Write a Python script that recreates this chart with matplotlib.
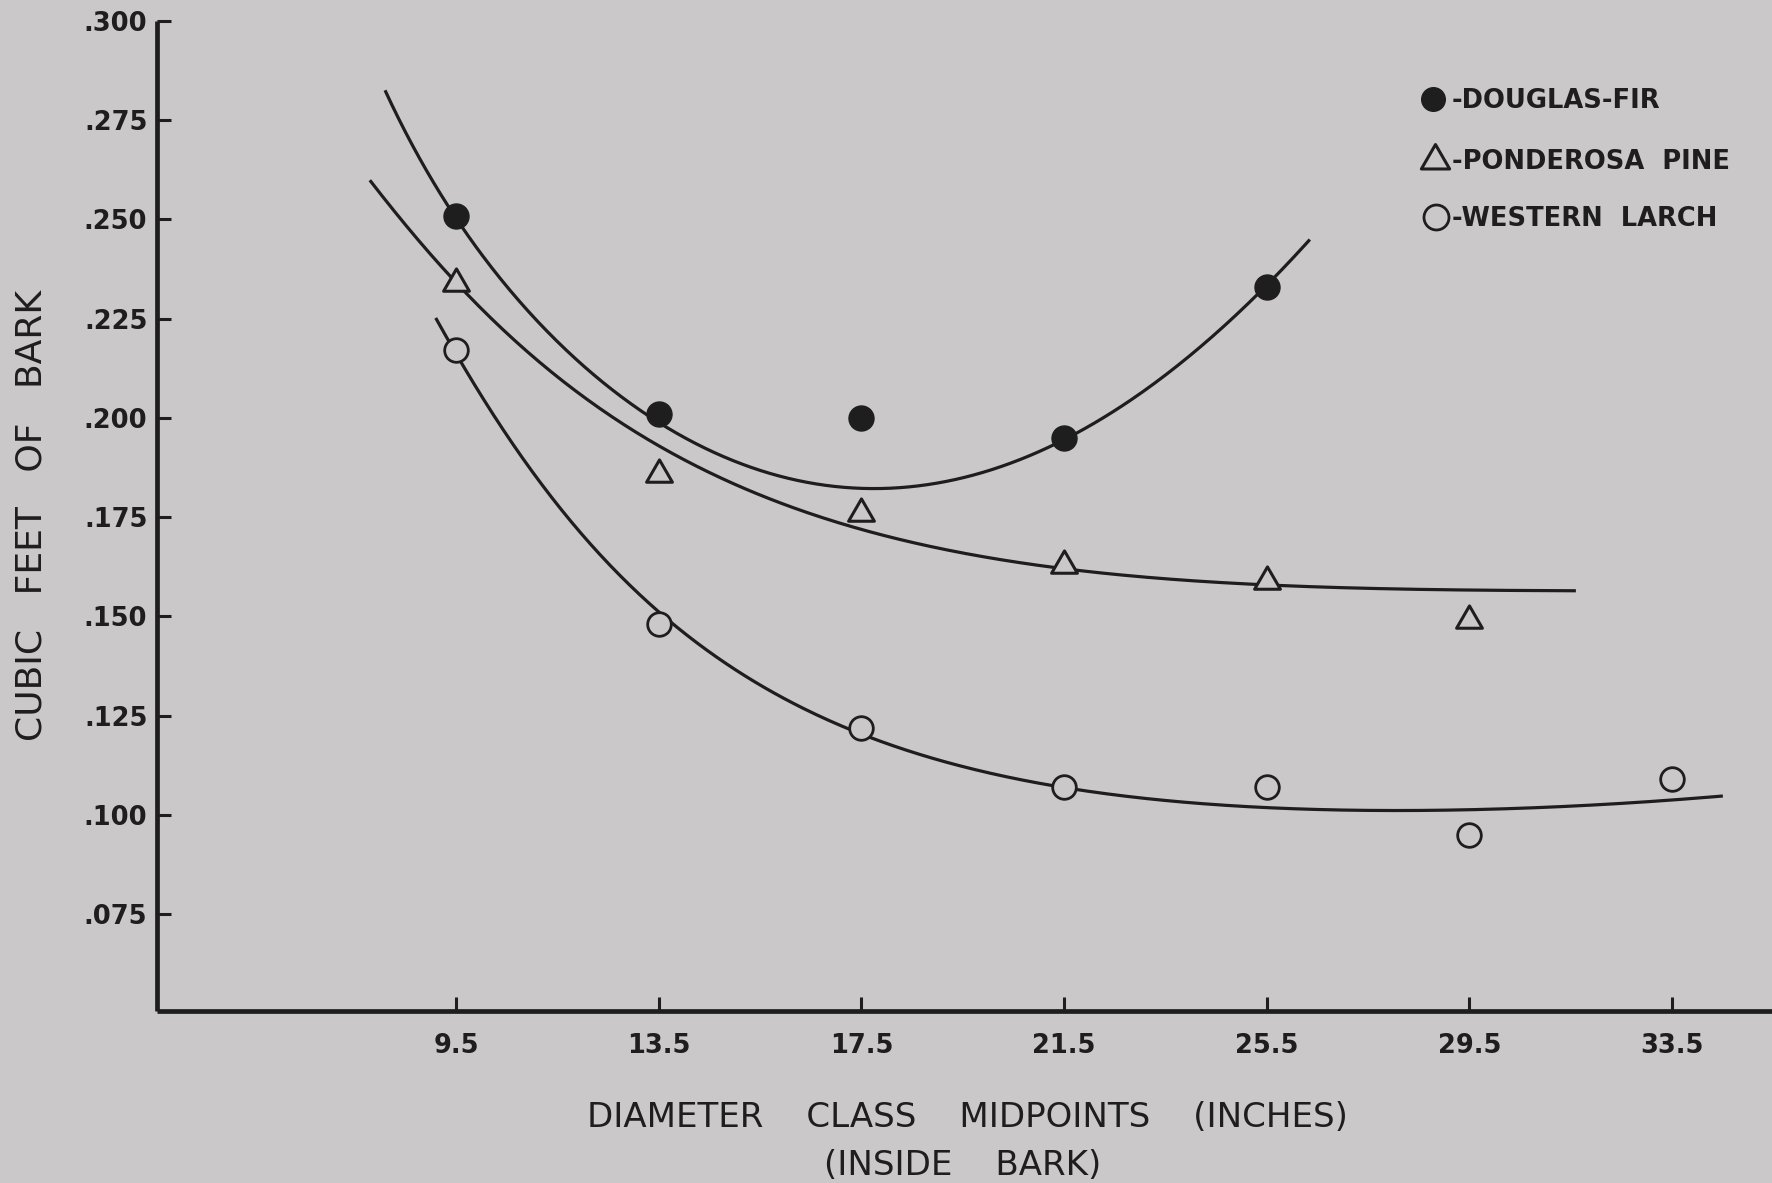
import numpy as np
import matplotlib
matplotlib.use("Agg")
import matplotlib.pyplot as plt
from matplotlib.lines import Line2D
from matplotlib.path import Path

# ---- data -------------------------------------------------------------
# Diameter class midpoints, inches inside bark
diameter = [9.5, 13.5, 17.5, 21.5, 25.5, 29.5, 33.5]
x_tick_labels = ["9.5", "13.5", "17.5", "21.5", "25.5", "29.5", "33.5"]

# Mean cubic feet of bark per diameter class
douglas_fir = [0.251, 0.201, 0.200, 0.195, 0.233]
ponderosa_pine = [0.234, 0.186, 0.176, 0.163, 0.159, 0.149]
western_larch = [0.217, 0.148, 0.122, 0.107, 0.107, 0.095, 0.109]

# Fitted regression curves, sampled along each line
df_curve_d = [8.1, 9.3, 9.6, 10.5, 11.5, 12.45, 13.5, 14.4, 15.6, 16.2,
              17.55, 18.8, 20.3, 21.4, 22.6, 24.1, 25.4, 26.35]
df_curve_v = [0.2824, 0.2549, 0.2482, 0.2331, 0.2188, 0.2087, 0.1991, 0.1919,
              0.1873, 0.1844, 0.1814, 0.1827, 0.1886, 0.1949, 0.2028, 0.2154,
              0.2322, 0.2455]

pp_curve_d = [7.8, 9.4, 10.5, 11.67, 13.63, 15.59, 17.17, 18.82, 21.37,
              23.32, 25.35, 26.83, 28.8, 31.6]
pp_curve_v = [0.2598, 0.2356, 0.2222, 0.2076, 0.1917, 0.1811, 0.1730, 0.1676,
              0.1625, 0.1592, 0.1579, 0.1575, 0.1569, 0.1564]

wl_curve_d = [9.1, 9.7, 10.4, 11.35, 12.35, 13.63, 14.94, 16.25, 18.21,
              21.34, 25.3, 29.4, 32.2, 34.5]
wl_curve_v = [0.2249, 0.2120, 0.1988, 0.1794, 0.1650, 0.1507, 0.1370, 0.1272,
              0.1175, 0.1071, 0.1017, 0.1014, 0.1029, 0.1046]

y_ticks = [0.075, 0.100, 0.125, 0.150, 0.175, 0.200, 0.225, 0.250, 0.275, 0.300]
y_tick_labels = [".075", ".100", ".125", ".150", ".175", ".200", ".225",
                 ".250", ".275", ".300"]

species_labels = ["-DOUGLAS-FIR", "-PONDEROSA  PINE", "-WESTERN  LARCH"]

# ---- style --------------------------------------------------------------
PAPER = "#cbc8c9"
INK = "#1e1e1e"
W, H = 1772, 1183

plt.rcParams["font.family"] = ["DejaVu Sans"]

fig = plt.figure(figsize=(W / 100, H / 100), dpi=100, facecolor=PAPER)
ax = fig.add_axes([157 / W, 1 - 1011 / H, 1 - 157 / W, (1011 - 21) / H])
ax.set_facecolor(PAPER)

ax.set_xlim(3.6, 35.47)
ax.set_ylim(0.0506, 0.300)

for side in ("top", "right"):
    ax.spines[side].set_visible(False)
for side in ("left", "bottom"):
    ax.spines[side].set_linewidth(3.4)
    ax.spines[side].set_color(INK)
    ax.spines[side].set_capstyle("butt")

ax.set_xticks(diameter)
ax.set_xticklabels(x_tick_labels)
ax.set_yticks(y_ticks)
ax.set_yticklabels(y_tick_labels)
ax.tick_params(axis="both", direction="in", length=10, width=2.2, color=INK,
               labelcolor=INK, labelsize=18.5)
ax.tick_params(axis="x", pad=15.5)
ax.tick_params(axis="y", pad=7)
for lab in ax.get_xticklabels() + ax.get_yticklabels():
    lab.set_fontweight("bold")


def smooth_curve(d, v, deg=4, n=400):
    """Least-squares polynomial in log(diameter) through the sampled line."""
    d = np.asarray(d, dtype=float)
    v = np.asarray(v, dtype=float)
    coef = np.polyfit(np.log(d), v, deg)
    xs = np.linspace(d.min(), d.max(), n)
    return xs, np.polyval(coef, np.log(xs))


for cd, cv, deg in ((df_curve_d, df_curve_v, 4),
                    (pp_curve_d, pp_curve_v, 4),
                    (wl_curve_d, wl_curve_v, 5)):
    xs, ys = smooth_curve(cd, cv, deg)
    ax.plot(xs, ys, color=INK, lw=2.3, solid_capstyle="butt", zorder=2)

# open triangle marker with its centroid on the data value
tri = Path([(-1.0, -0.6), (1.0, -0.6), (0.0, 1.13), (-1.0, -0.6)], closed=True)

ax.plot(diameter[:len(douglas_fir)], douglas_fir, ls="none", marker="o",
        ms=18, mfc=INK, mec=INK, mew=1.0, zorder=4)
ax.plot(diameter[:len(ponderosa_pine)], ponderosa_pine, ls="none", marker=tri,
        ms=21, mfc=PAPER, mec=INK, mew=2.2, zorder=4)
ax.plot(diameter[:len(western_larch)], western_larch, ls="none", marker="o",
        ms=17, mfc=PAPER, mec=INK, mew=2.0, zorder=4)


def fx(px):
    return px / W


def fy(py):
    return 1 - py / H


# ---- key ------------------------------------------------------------------
key_markers = [
    dict(marker="o", ms=17, mfc=INK, mec=INK, mew=1.0),
    dict(marker=tri, ms=23, mfc=PAPER, mec=INK, mew=2.2),
    dict(marker="o", ms=18, mfc=PAPER, mec=INK, mew=2.0),
]
key_centers = [99, 160, 217]
key_marker_x = [1433, 1435, 1436]
for label, style, cy, mx in zip(species_labels, key_markers, key_centers,
                                key_marker_x):
    fig.add_artist(Line2D([fx(mx)], [fy(cy)], ls="none",
                          transform=fig.transFigure, **style))
    fig.text(fx(1452), fy(cy + 9), label, fontsize=18.5, fontweight="bold",
             color=INK, ha="left", va="baseline")

# ---- axis titles ------------------------------------------------------------
fig.text(fx(967), fy(1127), "DIAMETER    CLASS    MIDPOINTS    (INCHES)",
         fontsize=24.5, color=INK, ha="center", va="baseline")
fig.text(fx(963), fy(1175), "(INSIDE    BARK)",
         fontsize=24.5, color=INK, ha="center", va="baseline")
fig.text(fx(42), fy(515), "CUBIC   FEET   OF   BARK", fontsize=26, color=INK,
         rotation=90, rotation_mode="anchor", ha="center", va="baseline")

fig.savefig("out.png", dpi=100, facecolor=PAPER)
